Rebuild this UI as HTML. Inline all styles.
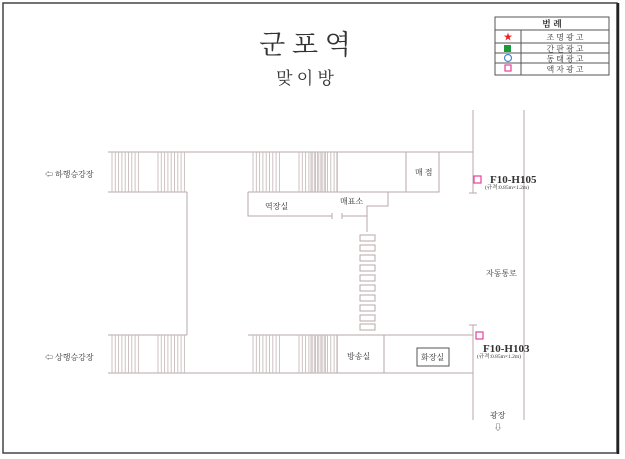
<!DOCTYPE html>
<html><head><meta charset="utf-8"><style>
html,body{margin:0;padding:0;background:#fff;}
svg{display:block;}
text{font-family:"Liberation Serif","Noto Serif CJK SC","Noto Sans CJK KR",serif;fill:#333;}
</style></head><body>
<svg width="625" height="459" viewBox="0 0 625 459" xmlns="http://www.w3.org/2000/svg">
<rect x="3" y="3" width="614" height="450" fill="#fff" stroke="#444" stroke-width="1.5"/>
<line x1="618" y1="3" x2="618" y2="454" stroke="#222" stroke-width="2.5"/>
<text x="305" y="54" font-size="27" text-anchor="middle" font-family="Noto Sans CJK KR,sans-serif" fill="#222">군 포 역</text>
<text x="305" y="84" font-size="17" text-anchor="middle" font-family="Noto Sans CJK KR,sans-serif" fill="#333">맞 이 방</text>
<g stroke="#555" stroke-width="1" fill="none">
<rect x="495" y="17" width="114" height="58"/>
<line x1="495" y1="30" x2="609" y2="30"/>
<line x1="495" y1="43" x2="609" y2="43"/>
<line x1="495" y1="53" x2="609" y2="53"/>
<line x1="495" y1="63" x2="609" y2="63"/>
<line x1="521" y1="30" x2="521" y2="75"/>
</g>
<text x="552" y="27" font-size="9" font-weight="bold" text-anchor="middle">범 례</text>
<text x="508" y="40" font-size="9" text-anchor="middle" style="fill:#e22">★</text>
<rect x="504" y="45" width="7" height="7" fill="#1a9a3a"/>
<circle cx="508" cy="58" r="3.5" fill="none" stroke="#4a86d8" stroke-width="1.2"/>
<rect x="505" y="65" width="6" height="6" fill="none" stroke="#e4409a" stroke-width="1.2"/>
<g font-size="8" text-anchor="middle" font-family="Noto Sans CJK KR,sans-serif">
<text x="565" y="40">조 명 광 고</text>
<text x="565" y="51.5">간 판 광 고</text>
<text x="565" y="61.5">동 태 광 고</text>
<text x="565" y="72">액 자 광 고</text>
</g>
<g stroke="#b8aaa8" stroke-width="1" fill="none">
<line x1="108" y1="152" x2="473" y2="152"/>
<line x1="108" y1="192" x2="187" y2="192"/>
<line x1="187" y1="192" x2="187" y2="335"/>
<line x1="108" y1="335" x2="187" y2="335"/>
<line x1="108" y1="373" x2="473" y2="373"/>
<line x1="248" y1="335" x2="473" y2="335"/>
<line x1="248" y1="192" x2="439" y2="192"/>
<line x1="337" y1="152" x2="337" y2="192"/>
<rect x="406" y="152" width="33" height="40"/>
<polyline points="248,192 248,216 332,216"/>
<line x1="332" y1="213" x2="332" y2="219"/>
<polyline points="342,213 342,219"/>
<polyline points="342,216 367,216 367,206 388,206 388,192"/>
<line x1="367" y1="216" x2="367" y2="232"/>
<line x1="337" y1="335" x2="337" y2="373"/>
<line x1="384" y1="335" x2="384" y2="373"/>
<line x1="473" y1="110" x2="473" y2="193"/>
<line x1="469" y1="193" x2="477" y2="193"/>
<line x1="473" y1="325" x2="473" y2="420"/>
<line x1="469" y1="325" x2="477" y2="325"/>
<line x1="524" y1="110" x2="524" y2="420"/>
</g>
<g stroke="#b8aaa8" stroke-width="1" fill="none">
<rect x="360" y="235" width="15" height="6"/><rect x="360" y="245" width="15" height="6"/>
<rect x="360" y="255" width="15" height="6"/><rect x="360" y="265" width="15" height="6"/>
<rect x="360" y="275" width="15" height="6"/><rect x="360" y="285" width="15" height="6"/>
<rect x="360" y="295" width="15" height="6"/><rect x="360" y="305" width="15" height="6"/>
<rect x="360" y="315" width="15" height="6"/><rect x="360" y="324" width="15" height="6"/>
</g>
<g stroke="#c8bcbc" stroke-width="0.9">
<g id="s1"><line x1="112" y1="152" x2="112" y2="192"/><line x1="115.3" y1="152" x2="115.3" y2="192"/><line x1="118.6" y1="152" x2="118.6" y2="192"/><line x1="121.9" y1="152" x2="121.9" y2="192"/><line x1="125.2" y1="152" x2="125.2" y2="192"/><line x1="128.5" y1="152" x2="128.5" y2="192"/><line x1="131.8" y1="152" x2="131.8" y2="192"/><line x1="135.1" y1="152" x2="135.1" y2="192"/><line x1="138.4" y1="152" x2="138.4" y2="192"/></g>
<use href="#s1" x="46"/>
<use href="#s1" x="141"/>
<use href="#s1" x="187"/>
<use href="#s1" x="199"/>
<g transform="translate(0,335) scale(1,0.95) translate(0,-152)">
<use href="#s1"/><use href="#s1" x="46"/><use href="#s1" x="141"/><use href="#s1" x="187"/><use href="#s1" x="199"/>
</g>
</g>
<rect x="417" y="348" width="32" height="18" fill="none" stroke="#555" stroke-width="1"/>
<g font-size="8" font-family="Noto Sans CJK KR,sans-serif" fill="#444">
<text x="45" y="177">⇦ 하행승강장</text>
<text x="45" y="360">⇦ 상행승강장</text>
<text x="265" y="209">역장실</text>
<text x="340" y="204">매표소</text>
<text x="415" y="175">매 점</text>
<text x="347" y="359">방송실</text>
<text x="421" y="360">화장실</text>
<text x="486" y="276">자동통로</text>
<text x="490" y="418">광장</text>
<text x="494" y="430">⇩</text>
</g>
<rect x="474" y="176" width="7" height="7" fill="none" stroke="#e4409a" stroke-width="1.2"/>
<rect x="476" y="332" width="7" height="7" fill="none" stroke="#e4409a" stroke-width="1.2"/>
<text x="490" y="183" font-size="11" font-weight="bold" fill="#333">F10-H105</text>
<text x="485" y="189" font-size="5.5">(규격:0.85m×1.2m)</text>
<text x="483" y="352" font-size="11" font-weight="bold" fill="#333">F10-H103</text>
<text x="477" y="358" font-size="5.5">(규격:0.85m×1.2m)</text>
</svg>
</body></html>
